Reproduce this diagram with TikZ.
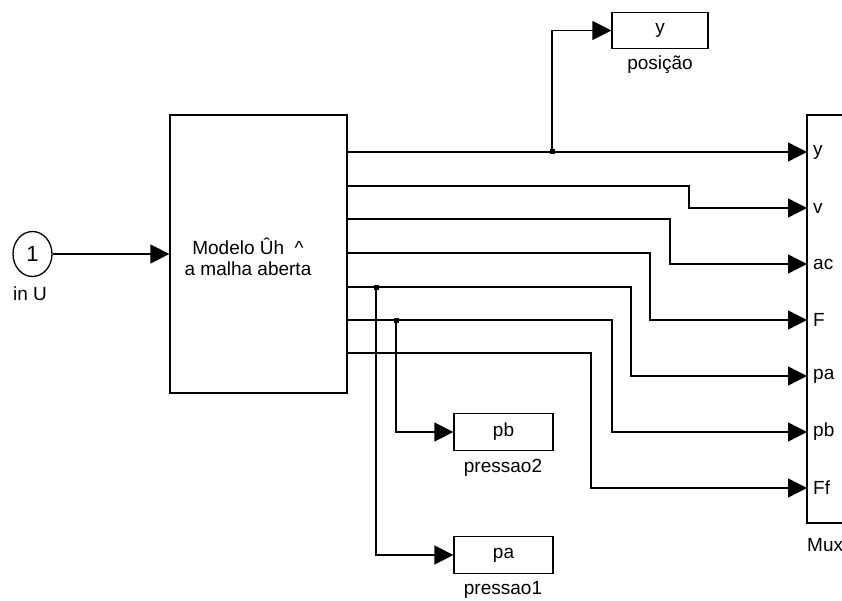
\documentclass[tikz,border=0pt]{standalone}
\usepackage{fontspec}
\setmainfont{Liberation Sans}
\usetikzlibrary{arrows.meta,shapes.geometric}
\begin{document}
\begin{tikzpicture}[x=1pt,y=-1pt,
  wire/.style={line width=1.3pt,-{Triangle[length=19pt,width=19pt]}},
  blk/.style={draw,line width=1.3pt,inner sep=0pt,font=\fontsize{19}{21}\selectfont},
  lbl/.style={inner sep=0pt,font=\fontsize{19}{21}\selectfont},
  jdot/.style={fill,rectangle,minimum size=5pt,inner sep=0pt}
]
\useasboundingbox (0,0) rectangle (842,601);
\clip (0,0) rectangle (842,601);
\fill[white] (0,0) rectangle (842,601);

% blocks
\node[blk,minimum width=177pt,minimum height=278pt] (M) at (258.5,254) {};
\node[lbl,align=center] (Mtxt) at (248,257) {Modelo Ûh\ \ \^{}\\a malha aberta};
\node[blk,ellipse,minimum width=39pt,minimum height=45pt,font=\fontsize{22}{24}\selectfont] (in) at (32.5,254) {1};
\node[lbl] (inlbl) at (30,294) {in U};

\node[blk,minimum width=50pt,minimum height=408pt] (X) at (832,319) {};
\node[lbl,anchor=west] (Xlbl) at (807,545) {Mux};

\node[blk,minimum width=96pt,minimum height=36pt] (Y) at (660,30.5) {y};
\node[lbl] (Ylbl) at (660,65) {posição};
\node[blk,minimum width=99pt,minimum height=37pt] (PB) at (503.5,432) {pb};
\node[lbl] (PBlbl) at (503,468) {pressao2};
\node[blk,minimum width=99pt,minimum height=37pt] (PA) at (503.5,555) {pa};
\node[lbl] (PAlbl) at (503,590) {pressao1};

% ports
\foreach \i/\yy in {1/152,2/186,3/219,4/253,5/287,6/320,7/353}
  \coordinate (o\i) at (347,\yy);
\foreach \i/\yy/\t in {1/152/y,2/208/v,3/264/ac,4/320/F,5/376/pa,6/432/pb,7/488/Ff}{
  \coordinate (m\i) at (807,\yy);
  \node[lbl,anchor=west] (ml\i) at (813,\yy) {\t};
}
% bend columns
\coordinate (k2) at (689,0);
\coordinate (k3) at (670,0);
\coordinate (k4) at (650,0);
\coordinate (k5) at (631,0);
\coordinate (k6) at (612,0);
\coordinate (k7) at (591,0);
% branch points
\coordinate (b1) at (552,152);
\coordinate (b5) at (376,287);
\coordinate (b6) at (396,320);

% connectors
\draw[wire] (in.east) -- (in.east -| M.west);
\draw[wire] (o1) -- (m1);
\draw[wire] (o2) -- (o2 -| k2) |- (m2);
\draw[wire] (o3) -- (o3 -| k3) |- (m3);
\draw[wire] (o4) -- (o4 -| k4) |- (m4);
\draw[wire] (o5) -- (o5 -| k5) |- (m5);
\draw[wire] (o6) -- (o6 -| k6) |- (m6);
\draw[wire] (o7) -- (o7 -| k7) |- (m7);
\draw[wire] (b1) |- (Y.west);
\draw[wire] (b5) |- (PA.west);
\draw[wire] (b6) |- (PB.west);
\node[jdot] (d1) at (b1) {};
\node[jdot] (d5) at (b5) {};
\node[jdot] (d6) at (b6) {};
\end{tikzpicture}
\end{document}
